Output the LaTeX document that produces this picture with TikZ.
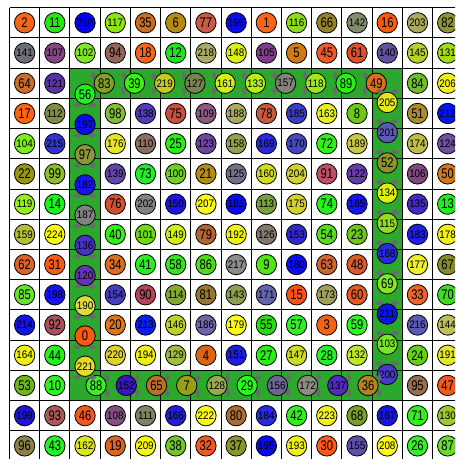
\documentclass[tikz,border=0pt]{standalone}
\usepackage{fontspec}
\newfontfamily\numfontA[FakeStretch=0.8]{Liberation Sans}
\newfontfamily\numfontB[FakeStretch=0.9]{Liberation Sans}
\tikzset{
  numc/.style={circle, draw=black, line width=0.6pt, minimum size=15.3pt, inner sep=0pt},
  piecec/.style={fill={rgb,255:red,105;green,105;blue,110}},
  gridl/.style={draw=black, line width=0.7pt},
  ringg/.style={fill={rgb,255:red,44;green,168;blue,44}},
}
\newcommand\numtxt[1]{\ifnum#1>99 \numfontB\fontsize{8.2}{9}\selectfont #1\else\numfontA\fontsize{10.5}{11}\selectfont #1\fi}
\newcommand\gridcirc[6]{%
  \definecolor{cc}{RGB}{#4,#5,#6}%
  \node[numc, fill=cc] (g#1-#2) at ({9.5+30.22*(#2+0.5)},{7.7+30.22*(#1+0.5)}) {\numtxt{#3}};}
\newcommand\piece[4]{%
  \fill[piecec] ({#1+4.5*(#4)},{#2+4.5*(#3)}) -- ({#1+2.5*(#3)},{#2+2.5*(#4)}) -- ({#1-4.5*(#4)},{#2-4.5*(#3)}) -- ({#1-2.5*(#3)},{#2-2.5*(#4)}) -- cycle;}
\newcommand\ringc[8]{%
  \pgfmathsetmacro\rx{9.5+30.22*(#1+0.5)-11*(#3)}%
  \pgfmathsetmacro\ry{7.7+30.22*(#2+0.5)-11*(#4)}%
  \pgfmathsetmacro\bx{\rx-11*(#3)}%
  \pgfmathsetmacro\by{\ry-11*(#4)}%
  \piece{\bx+7.5*(#4)}{\by+7.5*(#3)}{#3}{#4}%
  \piece{\bx-7.5*(#4)}{\by-7.5*(#3)}{#3}{#4}%
  \definecolor{cc}{RGB}{#6,#7,#8}%
  \node[numc, fill=cc] (r#5) at (\rx,\ry) {\numtxt{#5}};}
\begin{document}
\begin{tikzpicture}[x=0.75pt,y=-0.75pt]
\useasboundingbox (0,0) rectangle (455,459);
\clip (0,0) rectangle (455,459);
\fill[white] (0,0) rectangle (455,459);
\fill[ringg, even odd rule] (69.94,68.14) rectangle (402.36,400.56) (100.16,98.36) rectangle (372.14,370.34);
\foreach \i in {0,...,15} {
  \draw[gridl] ({9.5+30.22*\i},7.7) -- ({9.5+30.22*\i},470);
  \draw[gridl] (9.5,{7.7+30.22*\i}) -- (470,{7.7+30.22*\i});
}
% row 0
\foreach \c/\n/\R/\G/\B in {0/2/250/100/20,1/11/40/230/20,2/210/0/0/255,3/117/140/230/20,4/35/200/110/30,5/6/180/140/20,6/77/200/90/70,7/196/10/10/240,8/1/255/100/20,9/116/140/220/30,10/66/150/130/40,11/142/130/140/110,12/16/255/90/10,13/203/170/170/90,14/82/140/150/50}{\gridcirc{0}{\c}{\n}{\R}{\G}{\B}}
% row 1
\foreach \c/\n/\R/\G/\B in {0/141/110/110/120,1/107/130/70/130,2/102/130/230/40,3/94/150/100/90,4/18/250/100/20,5/12/30/230/30,6/218/170/170/100,7/148/220/240/20,8/105/130/60/140,9/5/210/120/20,10/45/240/90/40,11/61/220/80/40,12/140/100/80/160,13/145/180/210/40,14/131/160/220/20}{\gridcirc{1}{\c}{\n}{\R}{\G}{\B}}
% row 2
\foreach \c/\n/\R/\G/\B in {0/64/200/110/40,1/121/90/50/170,13/84/110/190/40,14/206/240/240/20}{\gridcirc{2}{\c}{\n}{\R}{\G}{\B}}
% row 3
\foreach \c/\n/\R/\G/\B in {0/17/250/100/20,1/112/130/140/70,3/98/130/190/50,4/138/80/60/180,5/75/200/80/60,6/109/140/90/130,7/188/170/170/100,8/78/200/90/60,9/185/60/60/200,10/163/230/240/30,11/8/110/200/20,13/51/170/140/40,14/212/0/20/250}{\gridcirc{3}{\c}{\n}{\R}{\G}{\B}}
% row 4
\foreach \c/\n/\R/\G/\B in {0/104/120/240/20,1/215/50/50/210,3/176/230/230/40,4/110/140/110/100,5/25/40/240/20,6/123/110/70/160,7/158/150/160/80,8/169/40/40/220,9/170/70/70/190,10/72/50/240/30,11/189/200/200/70,13/174/190/190/70,14/124/110/80/160}{\gridcirc{4}{\c}{\n}{\R}{\G}{\B}}
% row 5
\foreach \c/\n/\R/\G/\B in {0/22/150/150/20,1/99/140/190/50,3/139/100/70/170,4/73/30/240/40,5/100/110/210/30,6/21/180/140/20,7/125/120/110/140,8/160/210/220/30,9/204/210/210/50,10/91/190/80/100,11/122/100/60/170,13/106/130/70/130,14/50/210/120/20}{\gridcirc{5}{\c}{\n}{\R}{\G}{\B}}
% row 6
\foreach \c/\n/\R/\G/\B in {0/119/150/240/20,1/14/30/240/30,3/76/210/80/50,4/202/130/130/130,5/150/30/20/230,6/207/250/250/20,7/181/10/10/250,8/113/120/160/60,9/175/210/210/40,10/74/40/240/30,11/165/20/20/240,13/135/70/40/200,14/13/30/240/30}{\gridcirc{6}{\c}{\n}{\R}{\G}{\B}}
% row 7
\foreach \c/\n/\R/\G/\B in {0/159/180/190/60,1/224/250/250/10,3/40/50/240/20,4/101/110/220/20,5/149/210/240/20,6/79/180/100/50,7/192/240/240/20,8/126/130/120/110,9/153/50/40/210,10/54/90/220/30,11/23/110/200/20,13/183/30/30/230,14/178/240/240/20}{\gridcirc{7}{\c}{\n}{\R}{\G}{\B}}
% row 8
\foreach \c/\n/\R/\G/\B in {0/62/220/100/40,1/31/250/90/20,3/34/220/110/30,4/41/40/240/30,5/58/50/230/30,6/86/80/220/20,7/217/140/140/140,8/9/80/230/20,9/180/10/10/250,10/63/210/100/50,11/48/220/90/40,13/177/240/240/40,14/67/130/140/40}{\gridcirc{8}{\c}{\n}{\R}{\G}{\B}}
% row 9
\foreach \c/\n/\R/\G/\B in {0/85/100/230/40,1/198/20/20/240,3/154/70/60/190,4/90/180/70/90,5/114/130/170/50,6/81/150/120/50,7/143/140/160/80,8/171/100/100/170,9/15/250/80/20,10/173/160/160/90,11/60/230/90/40,13/33/240/100/40,14/70/60/220/30}{\gridcirc{9}{\c}{\n}{\R}{\G}{\B}}
% row 10
\foreach \c/\n/\R/\G/\B in {0/214/20/20/240,1/92/170/80/90,3/20/220/120/20,4/213/10/30/240,5/146/190/210/40,6/186/110/100/170,7/179/250/250/20,8/55/40/220/20,9/57/50/240/40,10/3/240/100/20,11/59/40/250/30,13/216/90/90/180,14/144/190/190/90}{\gridcirc{10}{\c}{\n}{\R}{\G}{\B}}
% row 11
\foreach \c/\n/\R/\G/\B in {0/164/240/240/20,1/44/40/240/30,3/220/220/210/50,4/194/240/240/20,5/129/160/190/60,6/4/220/100/20,7/151/30/30/220,8/27/40/240/20,9/147/200/220/40,10/28/40/240/40,11/132/190/230/40,13/24/100/210/20,14/191/230/230/40}{\gridcirc{11}{\c}{\n}{\R}{\G}{\B}}
% row 12
\foreach \c/\n/\R/\G/\B in {0/53/110/180/30,1/10/50/240/40,13/95/150/110/80,14/47/240/90/30}{\gridcirc{12}{\c}{\n}{\R}{\G}{\B}}
% row 13
\foreach \c/\n/\R/\G/\B in {0/199/30/20/220,1/93/170/90/90,2/46/240/90/30,3/108/130/80/130,4/111/130/130/100,5/166/30/30/220,6/222/250/250/20,7/80/170/110/50,8/184/40/40/230,9/42/50/240/30,10/223/240/240/30,11/68/120/160/40,12/167/20/20/230,13/71/50/240/30,14/130/160/200/40}{\gridcirc{13}{\c}{\n}{\R}{\G}{\B}}
% row 14
\foreach \c/\n/\R/\G/\B in {0/96/140/130/70,1/43/40/240/40,2/162/220/230/30,3/19/220/100/30,4/209/250/250/10,5/38/110/200/40,6/32/240/90/30,7/37/140/150/40,8/195/10/10/240,9/193/240/240/20,10/30/250/90/30,11/155/90/80/170,12/208/250/250/20,13/26/50/240/40,14/87/100/220/40}{\gridcirc{14}{\c}{\n}{\R}{\G}{\B}}
% ring: top row, moving right
\foreach \n/\R/\G/\B [count=\i from 3] in {83/130/160/40,39/60/240/20,219/200/200/40,127/120/130/80,161/210/240/20,133/180/240/20,157/130/130/120,118/160/230/30,89/40/240/20,49/220/110/30}{\ringc{\i}{2}{1}{0}{\n}{\R}{\G}{\B}}
% ring: right column, moving down
\foreach \n/\R/\G/\B [count=\i from 3] in {205/230/230/30,201/90/90/180,52/140/150/40,134/220/240/20,115/150/220/30,168/40/40/230,69/130/230/40,211/10/20/240,103/120/230/40,200/70/60/200}{\ringc{12}{\i}{0}{1}{\n}{\R}{\G}{\B}}
% ring: bottom row, moving left
\foreach \n/\R/\G/\B [count=\i from 0] in {36/180/130/30,137/80/40/200,172/140/140/130,156/110/100/150,29/40/250/30,128/150/170/80,7/150/160/20,65/190/110/40,152/60/20/200,88/60/240/40}{\pgfmathtruncatemacro\colidx{11-\i}\ringc{\colidx}{12}{-1}{0}{\n}{\R}{\G}{\B}}
% ring: left column, moving up
\foreach \n/\R/\G/\B [count=\i from 0] in {221/230/220/40,0/250/90/10,190/220/220/60,120/100/50/180,136/70/50/200,187/130/130/130,182/20/20/240,97/140/150/60,197/10/10/250,56/30/240/30}{\pgfmathtruncatemacro\rowidx{11-\i}\ringc{2}{\rowidx}{0}{-1}{\n}{\R}{\G}{\B}}
\end{tikzpicture}
\end{document}
